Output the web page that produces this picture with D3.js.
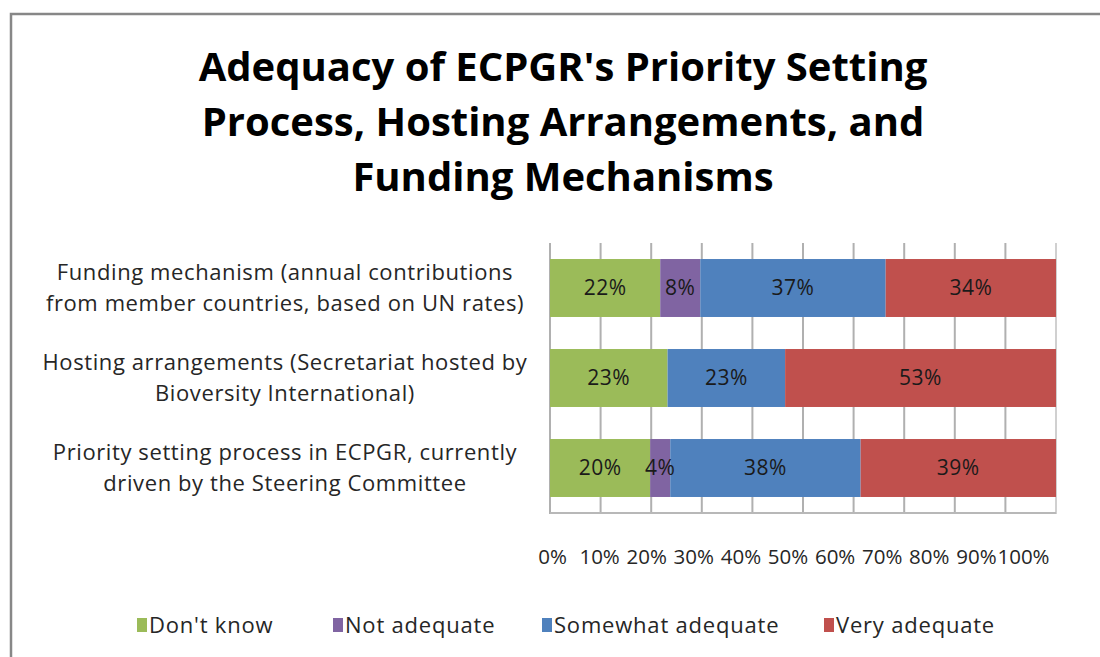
<!DOCTYPE html>
<html>
<head>
<meta charset="utf-8">
<script src="https://cdn.jsdelivr.net/npm/d3@7"></script>
<style>
  body { margin: 0; background: #fff; }
  svg { display: block; font-family: "Open Sans", Lato, sans-serif; }
</style>
</head>
<body>
<div id="vis"></div>
<script>
// chart values
var titleLines = ["Adequacy of ECPGR's Priority Setting",
                  "Process, Hosting Arrangements, and",
                  "Funding Mechanisms"];
var categories = ['funding', 'hosting', 'priority'];
var categoryLabels = [
    ['Funding mechanism (annual contributions', 'from member countries, based on UN rates)'],
    ['Hosting arrangements (Secretariat hosted by', 'Bioversity International)'],
    ['Priority setting process in ECPGR, currently', 'driven by the Steering Committee']
];
var seriesNames = ["Don't know", 'Not adequate', 'Somewhat adequate', 'Very adequate'];
var dontKnow      = [22, 23, 20];
var notAdequate   = [8, 0, 4];
var somewhat      = [37, 23, 38];
var veryAdequate  = [34, 53, 39];
var tickValues = [0, 0.1, 0.2, 0.3, 0.4, 0.5, 0.6, 0.7, 0.8, 0.9, 1];

var colors = ['#9bbb59', '#8064a2', '#4f81bd', '#c0504d'];

var width = 1100, height = 657;

var rows = categories.map((c, i) => ({
    cat: c,
    "Don't know": dontKnow[i],
    'Not adequate': notAdequate[i],
    'Somewhat adequate': somewhat[i],
    'Very adequate': veryAdequate[i]
}));

var svg = d3.select('#vis').append('svg')
    .attr('width', width)
    .attr('height', height);

// chart frame
svg.append('rect')
    .attr('x', 11).attr('y', 14)
    .attr('width', 1200).attr('height', 800)
    .attr('fill', '#fff')
    .attr('stroke', '#878787')
    .attr('stroke-width', 2.5);

// title
svg.append('g').selectAll('text')
    .data(titleLines)
    .enter()
    .append('text')
        .attr('x', 563)
        .attr('y', (d, i) => 81 + i * 55)
        .attr('text-anchor', 'middle')
        .attr('font-size', 40)
        .attr('font-weight', 'bold')
        .attr('fill', '#000')
        .text(d => d);

var x = d3.scaleLinear()
    .domain([0, 1])
    .range([550, 1056]);

// tick labels sit a little squeezed in the original
var xLabel = d3.scaleLinear()
    .domain([0, 1])
    .range([552, 1023]);

var y = d3.scaleBand()
    .domain(categories)
    .range([243, 513])
    .paddingInner(0.356)
    .paddingOuter(0.178);

var color = d3.scaleOrdinal()
    .domain(seriesNames)
    .range(colors);

// gridlines
svg.append('g').selectAll('line')
    .data(tickValues)
    .enter()
    .append('line')
        .attr('x1', d => x(d)).attr('x2', d => x(d))
        .attr('y1', 243).attr('y2', 514)
        .attr('stroke', (d, i) => i === tickValues.length - 1 ? '#d0d0d0' : '#b0b0b0')
        .attr('stroke-width', 2);

svg.append('line')
    .attr('x1', x(0)).attr('x2', x(1))
    .attr('y1', 513).attr('y2', 513)
    .attr('stroke', '#b8b8b8')
    .attr('stroke-width', 2);

var stacked = d3.stack()
    .keys(seriesNames)
    .offset(d3.stackOffsetExpand)(rows);

var layers = svg.append('g').selectAll('g')
    .data(stacked)
    .enter()
    .append('g')
        .attr('fill', d => color(d.key));

layers.selectAll('rect')
    .data(d => d)
    .enter()
    .append('rect')
        .attr('x', d => x(d[0]))
        .attr('y', d => y(d.data.cat))
        .attr('width', d => x(d[1]) - x(d[0]))
        .attr('height', y.bandwidth());

// value labels
stacked.forEach(layer => {
    svg.append('g').selectAll('text')
        .data(layer.filter(d => d.data[layer.key] > 0))
        .enter()
        .append('text')
            .attr('x', d => (x(d[0]) + x(d[1])) / 2)
            .attr('y', d => y(d.data.cat) + y.bandwidth() / 2)
            .attr('dy', '0.35em')
            .attr('text-anchor', 'middle')
            .attr('font-size', 21)
            .attr('letter-spacing', 0.5)
            .attr('fill', '#1a1a1a')
            .text(d => d.data[layer.key] + '%');
});

// category labels
var catG = svg.append('g').selectAll('text')
    .data(categories)
    .enter()
    .append('text')
        .attr('text-anchor', 'middle')
        .attr('font-size', 22)
        .attr('letter-spacing', 0.6)
        .attr('fill', '#262626');

catG.selectAll('tspan')
    .data((d, i) => categoryLabels[i].map(t => ({t: t, cat: d})))
    .enter()
    .append('tspan')
        .attr('x', 285)
        .attr('y', (d, j) => y(d.cat) + y.bandwidth() / 2 + (j === 0 ? -15.5 : 15.5))
        .attr('dy', '0.35em')
        .text(d => d.t);

// axis tick labels
var axis = svg.append('g')
    .attr('transform', 'translate(0,' + 557 + ')')
    .call(d3.axisBottom(xLabel)
        .tickValues(tickValues)
        .tickFormat(d3.format('.0%'))
        .tickSize(0)
        .tickPadding(0));
axis.select('.domain').remove();
axis.selectAll('text')
    .attr('dy', '0.35em')
    .attr('font-family', '"Open Sans", Lato, sans-serif')
    .attr('font-size', 20.5)
    .attr('fill', '#262626');

// legend
var legendX = [137, 333, 542, 824];
var legend = svg.append('g').selectAll('g')
    .data(seriesNames)
    .enter()
    .append('g')
        .attr('transform', (d, i) => 'translate(' + legendX[i] + ',625)');

legend.append('rect')
    .attr('x', 0).attr('y', -7)
    .attr('width', 10).attr('height', 14)
    .attr('fill', d => color(d));

legend.append('text')
    .attr('x', 12)
    .attr('dy', '0.35em')
    .attr('font-size', 22)
    .attr('letter-spacing', 0.8)
    .attr('fill', '#262626')
    .text(d => d);
</script>
</body>
</html>
